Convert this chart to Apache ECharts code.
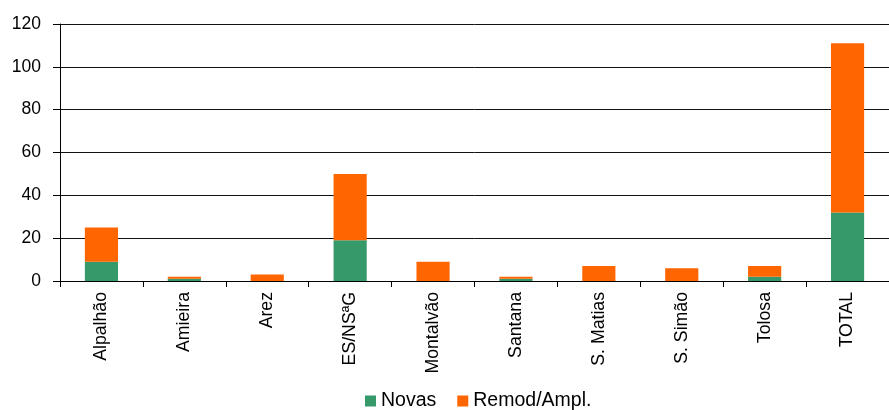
<!DOCTYPE html>
<html>
<head>
<meta charset="utf-8">
<script src="https://cdn.jsdelivr.net/npm/echarts@6/dist/echarts.min.js"></script>
<style>
  html, body { margin: 0; padding: 0; background: #fff; }
  #chart { width: 889px; height: 410px; }
</style>
</head>
<body>
<div id="chart"></div>
<script>
// Freguesias and totals
const categories = ['Alpalhão', 'Amieira', 'Arez', 'ES/NSªG', 'Montalvão', 'Santana', 'S. Matias', 'S. Simão', 'Tolosa', 'TOTAL'];
const novas = [9, 1, 0, 19, 0, 1, 0, 0, 2, 32];
const remodAmpl = [16, 1, 3, 31, 9, 1, 7, 6, 5, 79];
const yTicks = { min: 0, max: 120, interval: 20 };

const chart = echarts.init(document.getElementById('chart'), null, { renderer: 'canvas' });
const font = 'Liberation Sans, Arial, sans-serif';

chart.setOption({
  animation: false,
  textStyle: { fontFamily: font },
  grid: { left: 60, right: -11, top: 24, bottom: 129 },
  legend: {
    top: 391,
    left: 365,
    padding: 0,
    itemWidth: 11,
    itemHeight: 11,
    itemGap: 21,
    icon: 'rect',
    textStyle: { fontSize: 19.5, color: '#000', fontFamily: font },
    data: ['Novas', 'Remod/Ampl.']
  },
  xAxis: {
    type: 'category',
    data: categories,
    axisLine: { lineStyle: { color: '#000', width: 1 } },
    axisTick: { show: true, length: 6, lineStyle: { color: '#000' }, alignWithLabel: false },
    axisLabel: { rotate: 90, fontSize: 17.7, color: '#000', margin: 11, interval: 0, fontFamily: font }
  },
  yAxis: {
    type: 'value',
    min: yTicks.min,
    max: yTicks.max,
    interval: yTicks.interval,
    axisLine: { show: true, lineStyle: { color: '#000', width: 1 } },
    axisTick: { show: true, length: 7, lineStyle: { color: '#000' } },
    axisLabel: { fontSize: 17.5, color: '#000', margin: 19, fontFamily: font },
    splitLine: { show: true, lineStyle: { color: '#111', width: 1 } }
  },
  series: [
    {
      name: 'Novas',
      type: 'bar',
      stack: 'total',
      barWidth: '40%',
      itemStyle: { color: '#36996a' },
      data: novas
    },
    {
      name: 'Remod/Ampl.',
      type: 'bar',
      stack: 'total',
      barWidth: '40%',
      itemStyle: { color: '#ff6600' },
      data: remodAmpl
    }
  ]
});
</script>
</body>
</html>
